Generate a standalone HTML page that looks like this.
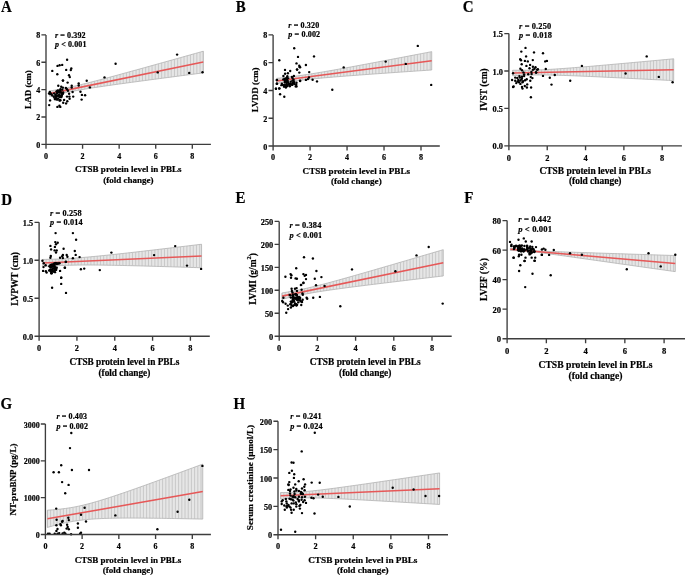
<!DOCTYPE html>
<html><head><meta charset="utf-8"><style>
html,body{margin:0;padding:0;background:#fff;overflow:hidden;width:685px;height:576px;}
svg{display:block;filter:blur(0.35px);}
text{font-family:"Liberation Serif", serif;font-weight:bold;fill:#000;stroke:#000;stroke-width:0.2px;}
.t{font-size:8.3px;}
.yt{font-size:9px;}
.xt{font-size:9px;}
.rp{font-size:8.3px;}
.L{font-size:17.4px;fill:#000;}
</style></head><body>
<svg width="685" height="576" viewBox="0 0 685 576">
<rect width="685" height="576" fill="#fff"/>
<g><polygon points="49.66,90.99 52.22,90.55 54.78,90.1 57.34,89.63 59.9,89.15 62.46,88.66 65.02,88.15 67.58,87.62 70.14,87.08 72.7,86.52 75.26,85.94 77.82,85.35 80.38,84.74 82.94,84.13 85.5,83.5 88.06,82.86 90.62,82.22 93.18,81.56 95.74,80.9 98.3,80.23 100.86,79.56 103.42,78.88 105.98,78.2 108.54,77.51 111.1,76.83 113.66,76.13 116.22,75.44 118.78,74.74 121.34,74.04 123.9,73.34 126.47,72.64 129.03,71.94 131.59,71.23 134.15,70.53 136.71,69.82 139.27,69.11 141.83,68.4 144.39,67.69 146.95,66.98 149.51,66.27 152.07,65.56 154.63,64.85 157.19,64.13 159.75,63.42 162.31,62.7 164.87,61.99 167.43,61.27 169.99,60.56 172.55,59.84 175.11,59.13 177.67,58.41 180.23,57.69 182.79,56.97 185.35,56.26 187.91,55.54 190.47,54.82 193.03,54.1 195.59,53.38 198.15,52.67 200.71,51.95 203.27,51.23 203.27,72.86 200.71,73.2 198.15,73.53 195.59,73.86 193.03,74.2 190.47,74.53 187.91,74.87 185.35,75.2 182.79,75.54 180.23,75.87 177.67,76.21 175.11,76.55 172.55,76.88 169.99,77.22 167.43,77.56 164.87,77.9 162.31,78.23 159.75,78.57 157.19,78.91 154.63,79.25 152.07,79.59 149.51,79.93 146.95,80.27 144.39,80.62 141.83,80.96 139.27,81.3 136.71,81.65 134.15,81.99 131.59,82.34 129.03,82.69 126.47,83.04 123.9,83.39 121.34,83.74 118.78,84.09 116.22,84.45 113.66,84.81 111.1,85.17 108.54,85.54 105.98,85.9 103.42,86.27 100.86,86.65 98.3,87.03 95.74,87.41 93.18,87.81 90.62,88.2 88.06,88.61 85.5,89.03 82.94,89.45 80.38,89.89 77.82,90.34 75.26,90.8 72.7,91.28 70.14,91.77 67.58,92.28 65.02,92.8 62.46,93.34 59.9,93.9 57.34,94.48 54.78,95.06 52.22,95.67 49.66,96.28" fill="#e6e6e6" stroke="#a8a8a8" stroke-width="0.7"/>
<path d="M49.66 90.99V96.28M52.86 90.44V95.52M56.06 89.87V94.77M59.26 89.28V94.04M62.46 88.66V93.34M65.66 88.02V92.67M68.86 87.35V92.02M72.06 86.66V91.4M75.26 85.94V90.8M78.46 85.2V90.22M81.66 84.44V89.67M84.86 83.66V89.13M88.06 82.86V88.61M91.26 82.05V88.11M94.46 81.23V87.61M97.66 80.4V87.13M100.86 79.56V86.65M104.06 78.71V86.18M107.26 77.86V85.72M110.46 77V85.26M113.66 76.14V84.81M116.86 75.27V84.36M120.06 74.4V83.92M123.26 73.52V83.48M126.46 72.64V83.04M129.66 71.76V82.6M132.86 70.88V82.17M136.06 70V81.73M139.26 69.11V81.3M142.46 68.23V80.87M145.66 67.34V80.45M148.86 66.45V80.02M152.06 65.56V79.59M155.26 64.67V79.17M158.46 63.78V78.74M161.66 62.89V78.32M164.86 61.99V77.9M168.06 61.1V77.48M171.26 60.2V77.05M174.46 59.31V76.63M177.66 58.41V76.21M180.86 57.52V75.79M184.06 56.62V75.37M187.26 55.72V74.95M190.46 54.83V74.54M193.66 53.93V74.12M196.86 53.03V73.7M200.06 52.13V73.28M203.26 51.23V72.86" stroke="#bdbdbd" stroke-width="0.75" fill="none"/>
<line x1="49.66" y1="93.63" x2="203.27" y2="62.04" stroke="#e65858" stroke-width="1.55"/>
<circle cx="67.1" cy="59.7" r="1.2"/>
<circle cx="57.5" cy="65.9" r="1.2"/>
<circle cx="59.6" cy="65.2" r="1.2"/>
<circle cx="62.2" cy="64.9" r="1.2"/>
<circle cx="52.3" cy="70.9" r="1.2"/>
<circle cx="66.2" cy="69.9" r="1.2"/>
<circle cx="71.3" cy="68.5" r="1.2"/>
<circle cx="70.8" cy="70.1" r="1.2"/>
<circle cx="57.3" cy="74.3" r="1.2"/>
<circle cx="69" cy="75.3" r="1.2"/>
<circle cx="69.8" cy="77.1" r="1.2"/>
<circle cx="63" cy="80.5" r="1.2"/>
<circle cx="67.6" cy="82.6" r="1.2"/>
<circle cx="86.7" cy="80.7" r="1.2"/>
<circle cx="89.9" cy="87.4" r="1.2"/>
<circle cx="115.6" cy="63.7" r="1.2"/>
<circle cx="104.5" cy="77.4" r="1.2"/>
<circle cx="157.7" cy="72.4" r="1.2"/>
<circle cx="177.1" cy="54.6" r="1.2"/>
<circle cx="189.2" cy="72.9" r="1.2"/>
<circle cx="202.5" cy="72.3" r="1.2"/>
<circle cx="62.9" cy="80.6" r="1.2"/>
<circle cx="58.3" cy="85.8" r="1.2"/>
<circle cx="61.2" cy="86.7" r="1.2"/>
<circle cx="62.9" cy="87.6" r="1.2"/>
<circle cx="65.9" cy="87.9" r="1.2"/>
<circle cx="67" cy="89.3" r="1.2"/>
<circle cx="67.9" cy="90.8" r="1.2"/>
<circle cx="71.7" cy="85.8" r="1.2"/>
<circle cx="71.7" cy="87.6" r="1.2"/>
<circle cx="78.7" cy="83.5" r="1.2"/>
<circle cx="78.7" cy="85.5" r="1.2"/>
<circle cx="49.8" cy="92" r="1.2"/>
<circle cx="50.1" cy="93.7" r="1.2"/>
<circle cx="56.5" cy="91.4" r="1.2"/>
<circle cx="58.3" cy="90.8" r="1.2"/>
<circle cx="72.6" cy="92" r="1.2"/>
<circle cx="80.5" cy="91.7" r="1.2"/>
<circle cx="69.1" cy="93.7" r="1.2"/>
<circle cx="69.4" cy="96.6" r="1.2"/>
<circle cx="69.6" cy="98.7" r="1.2"/>
<circle cx="67" cy="96.6" r="1.2"/>
<circle cx="73.2" cy="96.6" r="1.2"/>
<circle cx="81.9" cy="94.9" r="1.2"/>
<circle cx="85.1" cy="95.2" r="1.2"/>
<circle cx="81.6" cy="99.6" r="1.2"/>
<circle cx="50.1" cy="100.4" r="1.2"/>
<circle cx="49.2" cy="105.1" r="1.2"/>
<circle cx="64.1" cy="99.9" r="1.2"/>
<circle cx="63.2" cy="102.8" r="1.2"/>
<circle cx="66.1" cy="103.4" r="1.2"/>
<circle cx="67.3" cy="101.3" r="1.2"/>
<circle cx="57.4" cy="106.9" r="1.2"/>
<circle cx="59.4" cy="105.7" r="1.2"/>
<circle cx="60.3" cy="106.9" r="1.2"/>
<circle cx="55.34" cy="94.94" r="1.2"/>
<circle cx="62.37" cy="93.54" r="1.2"/>
<circle cx="56.17" cy="95.35" r="1.2"/>
<circle cx="51.35" cy="94.23" r="1.2"/>
<circle cx="57.99" cy="98.42" r="1.2"/>
<circle cx="58.34" cy="95.77" r="1.2"/>
<circle cx="49.05" cy="93.51" r="1.2"/>
<circle cx="55.16" cy="99.15" r="1.2"/>
<circle cx="56.33" cy="96.14" r="1.2"/>
<circle cx="56.05" cy="96.47" r="1.2"/>
<circle cx="61.12" cy="97.15" r="1.2"/>
<circle cx="60.02" cy="92.57" r="1.2"/>
<circle cx="61.21" cy="92.36" r="1.2"/>
<circle cx="62.16" cy="93.6" r="1.2"/>
<circle cx="63.21" cy="92.52" r="1.2"/>
<circle cx="60.2" cy="90.62" r="1.2"/>
<circle cx="60.48" cy="89.25" r="1.2"/>
<circle cx="56.93" cy="93.27" r="1.2"/>
<circle cx="50.34" cy="92.87" r="1.2"/>
<circle cx="61.33" cy="96.16" r="1.2"/>
<circle cx="60.11" cy="91.5" r="1.2"/>
<circle cx="52.22" cy="95.56" r="1.2"/>
<circle cx="54.14" cy="93.35" r="1.2"/>
<circle cx="62.89" cy="93.81" r="1.2"/>
<circle cx="57.16" cy="99.51" r="1.2"/>
<circle cx="59.62" cy="100.61" r="1.2"/>
<circle cx="61.74" cy="95.59" r="1.2"/>
<circle cx="57.49" cy="90.97" r="1.2"/>
<circle cx="56.93" cy="99.3" r="1.2"/>
<circle cx="57.75" cy="90.78" r="1.2"/>
<circle cx="62.27" cy="89.64" r="1.2"/>
<circle cx="58.9" cy="95.31" r="1.2"/>
<circle cx="55.79" cy="97.48" r="1.2"/>
<circle cx="59.58" cy="100.01" r="1.2"/>
<circle cx="59.58" cy="97.08" r="1.2"/>
<circle cx="60.42" cy="100.23" r="1.2"/>
<circle cx="53.84" cy="96.81" r="1.2"/>
<circle cx="54.82" cy="98.38" r="1.2"/>
<circle cx="61.47" cy="95.13" r="1.2"/>
<circle cx="57.91" cy="92.3" r="1.2"/>
<circle cx="57.28" cy="95.67" r="1.2"/>
<circle cx="59.45" cy="92.39" r="1.2"/>
<circle cx="59.55" cy="95.26" r="1.2"/>
<circle cx="55.16" cy="99.09" r="1.2"/>
<path d="M46 34.9V148.8M41.4 144.3H210.9M41.4 144.3H46M41.4 116.95H46M41.4 89.6H46M41.4 62.25H46M41.4 34.9H46M82.58 144.3V148.8M119.15 144.3V148.8M155.73 144.3V148.8M192.3 144.3V148.8" stroke="#3d3d3d" stroke-width="1.35" fill="none"/>
<text x="40.3" y="147.8" text-anchor="end" font-size="8">0</text>
<text x="40.3" y="120.45" text-anchor="end" font-size="8">2</text>
<text x="40.3" y="93.1" text-anchor="end" font-size="8">4</text>
<text x="40.3" y="65.75" text-anchor="end" font-size="8">6</text>
<text x="40.3" y="38.4" text-anchor="end" font-size="8">8</text>
<text x="46" y="158.5" text-anchor="middle" font-size="8">0</text>
<text x="82.58" y="158.5" text-anchor="middle" font-size="8">2</text>
<text x="119.15" y="158.5" text-anchor="middle" font-size="8">4</text>
<text x="155.73" y="158.5" text-anchor="middle" font-size="8">6</text>
<text x="192.3" y="158.5" text-anchor="middle" font-size="8">8</text>
<text transform="translate(30.6 89.5) rotate(-90)" text-anchor="middle" font-size="9">LAD (cm)</text>
<text x="128.3" y="172.2" text-anchor="middle" font-size="9">CTSB protein level in PBLs</text>
<text x="128.3" y="182.7" text-anchor="middle" font-size="9">(fold change)</text>
<text x="54.9" y="38.3" font-size="8" letter-spacing="0.12"><tspan font-style="italic">r</tspan> = 0.392</text>
<text x="54.9" y="47" font-size="8" letter-spacing="0.12"><tspan font-style="italic">p</tspan> < 0.001</text>
<text transform="translate(1 11.5) scale(0.86 1)" class="L">A</text></g>
<g><polygon points="276.61,78.37 279.2,78.1 281.78,77.82 284.37,77.53 286.95,77.23 289.54,76.91 292.12,76.59 294.71,76.25 297.29,75.91 299.88,75.55 302.46,75.18 305.05,74.8 307.63,74.41 310.22,74.01 312.8,73.6 315.39,73.18 317.98,72.76 320.56,72.32 323.15,71.89 325.73,71.45 328.32,71 330.9,70.55 333.49,70.09 336.07,69.63 338.66,69.17 341.24,68.7 343.83,68.23 346.41,67.76 349,67.29 351.58,66.82 354.17,66.34 356.75,65.86 359.34,65.38 361.92,64.9 364.51,64.42 367.09,63.94 369.68,63.45 372.26,62.97 374.85,62.48 377.43,61.99 380.02,61.51 382.6,61.02 385.19,60.53 387.77,60.04 390.36,59.55 392.95,59.06 395.53,58.57 398.12,58.07 400.7,57.58 403.29,57.09 405.87,56.6 408.46,56.1 411.04,55.61 413.63,55.11 416.21,54.62 418.8,54.13 421.38,53.63 423.97,53.14 426.55,52.64 429.14,52.15 431.72,51.65 431.72,69.97 429.14,70.15 426.55,70.32 423.97,70.5 421.38,70.68 418.8,70.85 416.21,71.03 413.63,71.21 411.04,71.39 408.46,71.56 405.87,71.74 403.29,71.92 400.7,72.1 398.12,72.28 395.53,72.46 392.95,72.64 390.36,72.82 387.77,73 385.19,73.19 382.6,73.37 380.02,73.55 377.43,73.74 374.85,73.92 372.26,74.11 369.68,74.29 367.09,74.48 364.51,74.67 361.92,74.86 359.34,75.05 356.75,75.24 354.17,75.44 351.58,75.63 349,75.83 346.41,76.03 343.83,76.23 341.24,76.43 338.66,76.64 336.07,76.85 333.49,77.06 330.9,77.28 328.32,77.5 325.73,77.72 323.15,77.95 320.56,78.19 317.98,78.43 315.39,78.67 312.8,78.93 310.22,79.19 307.63,79.46 305.05,79.75 302.46,80.04 299.88,80.34 297.29,80.65 294.71,80.98 292.12,81.31 289.54,81.66 286.95,82.02 284.37,82.39 281.78,82.77 279.2,83.16 276.61,83.56" fill="#e6e6e6" stroke="#a8a8a8" stroke-width="0.7"/>
<path d="M276.61 78.37V83.56M279.81 78.03V83.07M283.01 77.68V82.59M286.21 77.31V82.12M289.41 76.93V81.68M292.61 76.53V81.25M295.81 76.11V80.84M299.01 75.67V80.44M302.21 75.21V80.07M305.41 74.74V79.71M308.61 74.26V79.36M311.81 73.75V79.03M315.01 73.24V78.71M318.21 72.72V78.4M321.41 72.18V78.11M324.61 71.64V77.82M327.81 71.09V77.54M331.01 70.53V77.27M334.21 69.96V77M337.41 69.39V76.74M340.61 68.82V76.48M343.81 68.24V76.23M347.01 67.65V75.98M350.21 67.07V75.74M353.41 66.48V75.49M356.61 65.89V75.25M359.81 65.29V75.01M363.01 64.7V74.78M366.21 64.1V74.54M369.41 63.5V74.31M372.61 62.9V74.08M375.81 62.3V73.85M379.01 61.7V73.62M382.21 61.09V73.4M385.41 60.49V73.17M388.61 59.88V72.94M391.81 59.27V72.72M395.01 58.66V72.5M398.21 58.05V72.27M401.41 57.45V72.05M404.61 56.84V71.83M407.81 56.23V71.61M411.01 55.61V71.39M414.21 55V71.17M417.41 54.39V70.95M420.61 53.78V70.73M423.81 53.17V70.51M427.01 52.55V70.29M430.21 51.94V70.07" stroke="#bdbdbd" stroke-width="0.75" fill="none"/>
<line x1="276.61" y1="80.97" x2="431.72" y2="60.81" stroke="#e65858" stroke-width="1.55"/>
<circle cx="294.2" cy="48.3" r="1.2"/>
<circle cx="298" cy="56.9" r="1.2"/>
<circle cx="314" cy="56.4" r="1.2"/>
<circle cx="279.3" cy="60.3" r="1.2"/>
<circle cx="296.5" cy="63.4" r="1.2"/>
<circle cx="299.3" cy="65.8" r="1.2"/>
<circle cx="300.1" cy="67.3" r="1.2"/>
<circle cx="305.9" cy="65" r="1.2"/>
<circle cx="285" cy="69.9" r="1.2"/>
<circle cx="290.2" cy="71" r="1.2"/>
<circle cx="297" cy="69.5" r="1.2"/>
<circle cx="299.3" cy="72.6" r="1.2"/>
<circle cx="309.2" cy="72.1" r="1.2"/>
<circle cx="276.7" cy="80.1" r="1.2"/>
<circle cx="276.7" cy="83.75" r="1.2"/>
<circle cx="276" cy="88.75" r="1.2"/>
<circle cx="279.3" cy="88.4" r="1.2"/>
<circle cx="280.1" cy="94.2" r="1.2"/>
<circle cx="284.3" cy="96.8" r="1.2"/>
<circle cx="312.6" cy="79.8" r="1.2"/>
<circle cx="317" cy="81.4" r="1.2"/>
<circle cx="305.9" cy="79.9" r="1.2"/>
<circle cx="307.9" cy="79.1" r="1.2"/>
<circle cx="309" cy="77.5" r="1.2"/>
<circle cx="300.1" cy="80.8" r="1.2"/>
<circle cx="296.5" cy="82.7" r="1.2"/>
<circle cx="296.5" cy="86.4" r="1.2"/>
<circle cx="293.9" cy="75.9" r="1.2"/>
<circle cx="417.8" cy="45.9" r="1.2"/>
<circle cx="343.7" cy="67.4" r="1.2"/>
<circle cx="385.7" cy="61.6" r="1.2"/>
<circle cx="405.8" cy="63.9" r="1.2"/>
<circle cx="332.3" cy="89.8" r="1.2"/>
<circle cx="431.2" cy="84.9" r="1.2"/>
<circle cx="283.4" cy="76" r="1.2"/>
<circle cx="285.1" cy="73.8" r="1.2"/>
<circle cx="287.9" cy="73.2" r="1.2"/>
<circle cx="299.6" cy="67.1" r="1.2"/>
<circle cx="297.1" cy="69.6" r="1.2"/>
<circle cx="300.1" cy="81" r="1.2"/>
<circle cx="277.1" cy="79.9" r="1.2"/>
<circle cx="277.1" cy="83.8" r="1.2"/>
<circle cx="275.9" cy="88.8" r="1.2"/>
<circle cx="279.3" cy="88.5" r="1.2"/>
<circle cx="288.84" cy="84.37" r="1.2"/>
<circle cx="291.93" cy="76.95" r="1.2"/>
<circle cx="285.61" cy="86.57" r="1.2"/>
<circle cx="292.32" cy="83.56" r="1.2"/>
<circle cx="290.19" cy="84.42" r="1.2"/>
<circle cx="282.4" cy="84.79" r="1.2"/>
<circle cx="286.63" cy="80.73" r="1.2"/>
<circle cx="283.37" cy="79.4" r="1.2"/>
<circle cx="283.96" cy="86.65" r="1.2"/>
<circle cx="287.65" cy="80.93" r="1.2"/>
<circle cx="290.8" cy="81.77" r="1.2"/>
<circle cx="286.94" cy="80.13" r="1.2"/>
<circle cx="292.31" cy="84.6" r="1.2"/>
<circle cx="287.05" cy="82.26" r="1.2"/>
<circle cx="294.24" cy="82.1" r="1.2"/>
<circle cx="288.13" cy="82.37" r="1.2"/>
<circle cx="284.78" cy="81.05" r="1.2"/>
<circle cx="287.45" cy="86.02" r="1.2"/>
<circle cx="284.07" cy="84.92" r="1.2"/>
<circle cx="286.74" cy="84.07" r="1.2"/>
<circle cx="284.56" cy="78.96" r="1.2"/>
<circle cx="287.06" cy="77.62" r="1.2"/>
<circle cx="293.61" cy="79.82" r="1.2"/>
<circle cx="281.84" cy="83.81" r="1.2"/>
<circle cx="286.39" cy="86.24" r="1.2"/>
<circle cx="294.59" cy="84.11" r="1.2"/>
<circle cx="284.9" cy="82.49" r="1.2"/>
<circle cx="288.89" cy="83.93" r="1.2"/>
<circle cx="285.89" cy="87.47" r="1.2"/>
<circle cx="289.49" cy="84.92" r="1.2"/>
<circle cx="292.55" cy="77.98" r="1.2"/>
<circle cx="285.79" cy="78.57" r="1.2"/>
<circle cx="292.2" cy="84.9" r="1.2"/>
<circle cx="287.97" cy="78.37" r="1.2"/>
<circle cx="290.21" cy="83.9" r="1.2"/>
<circle cx="293.44" cy="80.91" r="1.2"/>
<circle cx="293.91" cy="83.25" r="1.2"/>
<circle cx="286.79" cy="80.21" r="1.2"/>
<circle cx="293.05" cy="83.01" r="1.2"/>
<circle cx="281.48" cy="85.13" r="1.2"/>
<circle cx="295.75" cy="86.39" r="1.2"/>
<circle cx="289.81" cy="86.26" r="1.2"/>
<circle cx="287.31" cy="76.32" r="1.2"/>
<circle cx="286.89" cy="79.39" r="1.2"/>
<circle cx="296.24" cy="84.82" r="1.2"/>
<circle cx="289.92" cy="83.86" r="1.2"/>
<circle cx="292.48" cy="80.58" r="1.2"/>
<circle cx="285.16" cy="80.76" r="1.2"/>
<circle cx="286.41" cy="84.77" r="1.2"/>
<circle cx="286.23" cy="84.92" r="1.2"/>
<path d="M273.1 34.9V150.5M268.5 146H439.8M268.5 146H273.1M268.5 118.22H273.1M268.5 90.45H273.1M268.5 62.68H273.1M268.5 34.9H273.1M310.08 146V150.5M347.05 146V150.5M384.02 146V150.5M421 146V150.5" stroke="#3d3d3d" stroke-width="1.35" fill="none"/>
<text x="267.34" y="149.54" text-anchor="end" font-size="8.09">0</text>
<text x="267.34" y="121.76" text-anchor="end" font-size="8.09">2</text>
<text x="267.34" y="93.99" text-anchor="end" font-size="8.09">4</text>
<text x="267.34" y="66.21" text-anchor="end" font-size="8.09">6</text>
<text x="267.34" y="38.44" text-anchor="end" font-size="8.09">8</text>
<text x="273.1" y="160.35" text-anchor="middle" font-size="8.09">0</text>
<text x="310.08" y="160.35" text-anchor="middle" font-size="8.09">2</text>
<text x="347.05" y="160.35" text-anchor="middle" font-size="8.09">4</text>
<text x="384.02" y="160.35" text-anchor="middle" font-size="8.09">6</text>
<text x="421" y="160.35" text-anchor="middle" font-size="8.09">8</text>
<text transform="translate(257.7 89.8) rotate(-90)" text-anchor="middle" font-size="9.1">LVDD (cm)</text>
<text x="356.3" y="173.7" text-anchor="middle" font-size="9.1">CTSB protein level in PBLs</text>
<text x="356.3" y="184.2" text-anchor="middle" font-size="9.1">(fold change)</text>
<text x="288.3" y="27.7" font-size="8.09" letter-spacing="0.12"><tspan font-style="italic">r</tspan> = 0.320</text>
<text x="288.3" y="37" font-size="8.09" letter-spacing="0.12"><tspan font-style="italic">p</tspan> = 0.002</text>
<text transform="translate(235.8 11.6) scale(0.86 1)" class="L">B</text></g>
<g><polygon points="512.73,70.23 515.42,70.26 518.1,70.28 520.78,70.29 523.46,70.28 526.15,70.25 528.83,70.21 531.51,70.16 534.19,70.09 536.88,70 539.56,69.9 542.24,69.78 544.93,69.65 547.61,69.51 550.29,69.36 552.97,69.19 555.66,69.02 558.34,68.84 561.02,68.65 563.7,68.46 566.39,68.26 569.07,68.06 571.75,67.85 574.44,67.64 577.12,67.42 579.8,67.2 582.48,66.98 585.17,66.76 587.85,66.53 590.53,66.31 593.22,66.08 595.9,65.84 598.58,65.61 601.26,65.38 603.95,65.14 606.63,64.91 609.31,64.67 611.99,64.43 614.68,64.19 617.36,63.95 620.04,63.71 622.73,63.47 625.41,63.23 628.09,62.99 630.77,62.75 633.46,62.5 636.14,62.26 638.82,62.01 641.5,61.77 644.19,61.53 646.87,61.28 649.55,61.03 652.24,60.79 654.92,60.54 657.6,60.3 660.28,60.05 662.97,59.8 665.65,59.56 668.33,59.31 671.01,59.06 673.7,58.81 673.7,80.65 671.01,80.51 668.33,80.37 665.65,80.23 662.97,80.09 660.28,79.95 657.6,79.82 654.92,79.68 652.24,79.54 649.55,79.4 646.87,79.27 644.19,79.13 641.5,78.99 638.82,78.86 636.14,78.72 633.46,78.58 630.77,78.45 628.09,78.31 625.41,78.18 622.73,78.05 620.04,77.91 617.36,77.78 614.68,77.65 611.99,77.52 609.31,77.39 606.63,77.26 603.95,77.13 601.26,77.01 598.58,76.88 595.9,76.76 593.22,76.63 590.53,76.51 587.85,76.39 585.17,76.28 582.48,76.16 579.8,76.05 577.12,75.94 574.44,75.83 571.75,75.73 569.07,75.63 566.39,75.53 563.7,75.44 561.02,75.36 558.34,75.28 555.66,75.21 552.97,75.14 550.29,75.09 547.61,75.04 544.93,75.01 542.24,74.99 539.56,74.98 536.88,74.98 534.19,75 531.51,75.04 528.83,75.09 526.15,75.16 523.46,75.25 520.78,75.35 518.1,75.46 515.42,75.59 512.73,75.73" fill="#e6e6e6" stroke="#a8a8a8" stroke-width="0.7"/>
<path d="M512.73 70.23V75.73M515.93 70.26V75.57M519.13 70.28V75.42M522.33 70.28V75.29M525.53 70.26V75.18M528.73 70.22V75.1M531.93 70.15V75.03M535.13 70.06V75M538.33 69.95V74.98M541.53 69.81V74.98M544.73 69.66V75.01M547.93 69.49V75.05M551.13 69.31V75.1M554.33 69.11V75.17M557.53 68.9V75.26M560.73 68.67V75.35M563.93 68.44V75.45M567.13 68.21V75.56M570.33 67.96V75.67M573.53 67.71V75.8M576.73 67.45V75.92M579.93 67.19V76.05M583.13 66.93V76.19M586.33 66.66V76.33M589.53 66.39V76.47M592.73 66.12V76.61M595.93 65.84V76.76M599.13 65.56V76.91M602.33 65.28V77.06M605.53 65V77.21M608.73 64.72V77.36M611.93 64.44V77.52M615.13 64.15V77.67M618.33 63.87V77.83M621.53 63.58V77.99M624.73 63.29V78.15M627.93 63V78.31M631.13 62.71V78.47M634.33 62.42V78.63M637.53 62.13V78.79M640.73 61.84V78.95M643.93 61.55V79.12M647.13 61.26V79.28M650.33 60.96V79.44M653.53 60.67V79.61M656.73 60.38V79.77M659.93 60.08V79.94M663.13 59.79V80.1M666.33 59.49V80.27M669.53 59.2V80.43M672.73 58.9V80.6" stroke="#bdbdbd" stroke-width="0.75" fill="none"/>
<line x1="512.73" y1="72.98" x2="673.7" y2="69.73" stroke="#e65858" stroke-width="1.55"/>
<circle cx="525.5" cy="47.9" r="1.2"/>
<circle cx="521.3" cy="51.6" r="1.2"/>
<circle cx="534" cy="52.4" r="1.2"/>
<circle cx="543" cy="53.2" r="1.2"/>
<circle cx="526.1" cy="56.4" r="1.2"/>
<circle cx="520.2" cy="59.2" r="1.2"/>
<circle cx="521" cy="60.3" r="1.2"/>
<circle cx="524.9" cy="60.9" r="1.2"/>
<circle cx="527.8" cy="61.4" r="1.2"/>
<circle cx="532.8" cy="60.1" r="1.2"/>
<circle cx="545.2" cy="61.4" r="1.2"/>
<circle cx="546.9" cy="60.9" r="1.2"/>
<circle cx="537.9" cy="69.3" r="1.2"/>
<circle cx="536.2" cy="72.7" r="1.2"/>
<circle cx="545.8" cy="69" r="1.2"/>
<circle cx="543" cy="75.9" r="1.2"/>
<circle cx="554.8" cy="75" r="1.2"/>
<circle cx="549.8" cy="77.8" r="1.2"/>
<circle cx="551.5" cy="84.6" r="1.2"/>
<circle cx="530.9" cy="97.3" r="1.2"/>
<circle cx="581.9" cy="65.9" r="1.2"/>
<circle cx="570.2" cy="80.7" r="1.2"/>
<circle cx="625.6" cy="73.5" r="1.2"/>
<circle cx="646.7" cy="56.4" r="1.2"/>
<circle cx="658.8" cy="76.9" r="1.2"/>
<circle cx="672.6" cy="82.2" r="1.2"/>
<circle cx="521.7" cy="64.3" r="1.2"/>
<circle cx="526.4" cy="65.9" r="1.2"/>
<circle cx="530.1" cy="64.9" r="1.2"/>
<circle cx="529.5" cy="68.25" r="1.2"/>
<circle cx="532.9" cy="66.7" r="1.2"/>
<circle cx="535.5" cy="67.2" r="1.2"/>
<circle cx="534.5" cy="68.8" r="1.2"/>
<circle cx="532.9" cy="69.8" r="1.2"/>
<circle cx="537.1" cy="69.8" r="1.2"/>
<circle cx="536" cy="72.2" r="1.2"/>
<circle cx="520.4" cy="68.8" r="1.2"/>
<circle cx="522" cy="70.3" r="1.2"/>
<circle cx="523.5" cy="72.4" r="1.2"/>
<circle cx="524.1" cy="74.5" r="1.2"/>
<circle cx="513.1" cy="73.2" r="1.2"/>
<circle cx="528.2" cy="74.2" r="1.2"/>
<circle cx="531.4" cy="71.9" r="1.2"/>
<circle cx="531.6" cy="74" r="1.2"/>
<circle cx="519.4" cy="76.1" r="1.2"/>
<circle cx="522" cy="76.6" r="1.2"/>
<circle cx="524.1" cy="76.1" r="1.2"/>
<circle cx="515.2" cy="77.6" r="1.2"/>
<circle cx="517.3" cy="77.9" r="1.2"/>
<circle cx="519.9" cy="77.6" r="1.2"/>
<circle cx="522" cy="78.1" r="1.2"/>
<circle cx="530.8" cy="77.1" r="1.2"/>
<circle cx="532.4" cy="78.1" r="1.2"/>
<circle cx="512.1" cy="80" r="1.2"/>
<circle cx="515.2" cy="80.75" r="1.2"/>
<circle cx="518.3" cy="80" r="1.2"/>
<circle cx="520.4" cy="80.5" r="1.2"/>
<circle cx="523" cy="81.3" r="1.2"/>
<circle cx="525.1" cy="80.2" r="1.2"/>
<circle cx="526.7" cy="79.2" r="1.2"/>
<circle cx="530.3" cy="80.75" r="1.2"/>
<circle cx="516.25" cy="83.1" r="1.2"/>
<circle cx="520.4" cy="83.9" r="1.2"/>
<circle cx="522.5" cy="82.3" r="1.2"/>
<circle cx="513.1" cy="87" r="1.2"/>
<circle cx="513.6" cy="86.5" r="1.2"/>
<circle cx="522" cy="87" r="1.2"/>
<circle cx="522.5" cy="88.6" r="1.2"/>
<circle cx="524.8" cy="86" r="1.2"/>
<circle cx="527.2" cy="84.4" r="1.2"/>
<circle cx="526.9" cy="87.5" r="1.2"/>
<circle cx="531.1" cy="87.5" r="1.2"/>
<circle cx="517.5" cy="81.6" r="1.2"/>
<circle cx="521.5" cy="79.4" r="1.2"/>
<circle cx="519" cy="82.2" r="1.2"/>
<path d="M508.9 33.6V150.3M504.3 145.8H681.9M504.3 145.8H508.9M504.3 108.4H508.9M504.3 71H508.9M504.3 33.6H508.9M547.23 145.8V150.3M585.55 145.8V150.3M623.88 145.8V150.3M662.2 145.8V150.3" stroke="#3d3d3d" stroke-width="1.35" fill="none"/>
<text x="502.93" y="149.47" text-anchor="end" font-size="8.38">0.0</text>
<text x="502.93" y="112.07" text-anchor="end" font-size="8.38">0.5</text>
<text x="502.93" y="74.67" text-anchor="end" font-size="8.38">1.0</text>
<text x="502.93" y="37.27" text-anchor="end" font-size="8.38">1.5</text>
<text x="508.9" y="160.68" text-anchor="middle" font-size="8.38">0</text>
<text x="547.23" y="160.68" text-anchor="middle" font-size="8.38">2</text>
<text x="585.55" y="160.68" text-anchor="middle" font-size="8.38">4</text>
<text x="623.88" y="160.68" text-anchor="middle" font-size="8.38">6</text>
<text x="662.2" y="160.68" text-anchor="middle" font-size="8.38">8</text>
<text transform="translate(486.5 89.6) rotate(-90)" text-anchor="middle" font-size="9.43">IVST (cm)</text>
<text x="595.2" y="173.8" text-anchor="middle" font-size="9.43">CTSB protein level in PBLs</text>
<text x="595.2" y="184.4" text-anchor="middle" font-size="9.43">(fold change)</text>
<text x="519.1" y="28.6" font-size="8.38" letter-spacing="0.12"><tspan font-style="italic">r</tspan> = 0.250</text>
<text x="519.1" y="38.4" font-size="8.38" letter-spacing="0.12"><tspan font-style="italic">p</tspan> = 0.018</text>
<text transform="translate(462.8 11.8) scale(0.86 1)" class="L">C</text></g>
<g><polygon points="42.88,259.44 45.53,259.4 48.17,259.34 50.82,259.28 53.46,259.2 56.11,259.11 58.75,259 61.39,258.89 64.04,258.75 66.68,258.61 69.33,258.45 71.97,258.28 74.62,258.1 77.26,257.91 79.91,257.71 82.55,257.49 85.2,257.27 87.84,257.04 90.49,256.8 93.13,256.56 95.77,256.31 98.42,256.05 101.06,255.79 103.71,255.52 106.35,255.25 109,254.97 111.64,254.69 114.29,254.41 116.93,254.12 119.58,253.83 122.22,253.54 124.87,253.25 127.51,252.95 130.15,252.66 132.8,252.36 135.44,252.06 138.09,251.75 140.73,251.45 143.38,251.15 146.02,250.84 148.67,250.53 151.31,250.22 153.96,249.92 156.6,249.61 159.24,249.29 161.89,248.98 164.53,248.67 167.18,248.36 169.82,248.04 172.47,247.73 175.11,247.42 177.76,247.1 180.4,246.78 183.05,246.47 185.69,246.15 188.34,245.83 190.98,245.52 193.62,245.2 196.27,244.88 198.91,244.56 201.56,244.24 201.56,267.77 198.91,267.69 196.27,267.6 193.62,267.52 190.98,267.43 188.34,267.35 185.69,267.27 183.05,267.18 180.4,267.1 177.76,267.02 175.11,266.94 172.47,266.85 169.82,266.77 167.18,266.69 164.53,266.61 161.89,266.54 159.24,266.46 156.6,266.38 153.96,266.3 151.31,266.23 148.67,266.15 146.02,266.08 143.38,266.01 140.73,265.94 138.09,265.87 135.44,265.8 132.8,265.73 130.15,265.67 127.51,265.6 124.87,265.54 122.22,265.48 119.58,265.42 116.93,265.37 114.29,265.32 111.64,265.27 109,265.22 106.35,265.18 103.71,265.14 101.06,265.11 98.42,265.08 95.77,265.05 93.13,265.04 90.49,265.02 87.84,265.02 85.2,265.02 82.55,265.03 79.91,265.05 77.26,265.09 74.62,265.13 71.97,265.18 69.33,265.24 66.68,265.32 64.04,265.41 61.39,265.51 58.75,265.63 56.11,265.76 53.46,265.9 50.82,266.05 48.17,266.22 45.53,266.4 42.88,266.59" fill="#e6e6e6" stroke="#a8a8a8" stroke-width="0.7"/>
<path d="M42.88 259.44V266.59M46.08 259.38V266.36M49.28 259.32V266.15M52.48 259.23V265.95M55.68 259.12V265.78M58.88 259V265.62M62.08 258.85V265.48M65.28 258.69V265.36M68.48 258.5V265.27M71.68 258.3V265.18M74.88 258.08V265.12M78.08 257.85V265.07M81.28 257.6V265.04M84.48 257.33V265.02M87.68 257.05V265.02M90.88 256.77V265.03M94.08 256.47V265.04M97.28 256.16V265.07M100.48 255.84V265.1M103.68 255.52V265.14M106.88 255.19V265.19M110.08 254.86V265.24M113.28 254.52V265.3M116.48 254.17V265.36M119.68 253.82V265.43M122.88 253.47V265.5M126.08 253.11V265.57M129.28 252.75V265.64M132.48 252.39V265.72M135.68 252.03V265.8M138.88 251.66V265.89M142.08 251.3V265.97M145.28 250.93V266.06M148.48 250.55V266.15M151.68 250.18V266.24M154.88 249.81V266.33M158.08 249.43V266.42M161.28 249.05V266.52M164.48 248.68V266.61M167.68 248.3V266.71M170.88 247.92V266.81M174.08 247.54V266.9M177.28 247.16V267M180.48 246.77V267.1M183.68 246.39V267.2M186.88 246.01V267.3M190.08 245.62V267.4M193.28 245.24V267.51M196.48 244.85V267.61M199.68 244.47V267.71" stroke="#bdbdbd" stroke-width="0.75" fill="none"/>
<line x1="42.88" y1="263.02" x2="201.56" y2="256.01" stroke="#e65858" stroke-width="1.55"/>
<circle cx="55.6" cy="233.1" r="1.2"/>
<circle cx="72.9" cy="233.1" r="1.2"/>
<circle cx="76.1" cy="239.7" r="1.2"/>
<circle cx="74.8" cy="251" r="1.2"/>
<circle cx="75.7" cy="254.9" r="1.2"/>
<circle cx="79.6" cy="257.1" r="1.2"/>
<circle cx="72.9" cy="258.2" r="1.2"/>
<circle cx="66" cy="261.8" r="1.2"/>
<circle cx="64.7" cy="267.7" r="1.2"/>
<circle cx="80.9" cy="269.2" r="1.2"/>
<circle cx="84.2" cy="268.6" r="1.2"/>
<circle cx="99.8" cy="270.1" r="1.2"/>
<circle cx="61.2" cy="277.7" r="1.2"/>
<circle cx="61.2" cy="283.9" r="1.2"/>
<circle cx="52.1" cy="287.7" r="1.2"/>
<circle cx="66" cy="292.9" r="1.2"/>
<circle cx="111.4" cy="252.6" r="1.2"/>
<circle cx="154.1" cy="255.1" r="1.2"/>
<circle cx="175.2" cy="246.1" r="1.2"/>
<circle cx="187" cy="265.6" r="1.2"/>
<circle cx="201.1" cy="268.9" r="1.2"/>
<circle cx="55.3" cy="242.1" r="1.2"/>
<circle cx="57.7" cy="242.8" r="1.2"/>
<circle cx="56" cy="244.2" r="1.2"/>
<circle cx="54.9" cy="246.9" r="1.2"/>
<circle cx="50.4" cy="245.9" r="1.2"/>
<circle cx="51.1" cy="249.4" r="1.2"/>
<circle cx="54.6" cy="250.4" r="1.2"/>
<circle cx="56.7" cy="250.4" r="1.2"/>
<circle cx="56" cy="252.5" r="1.2"/>
<circle cx="63.6" cy="248.7" r="1.2"/>
<circle cx="50.8" cy="256" r="1.2"/>
<circle cx="50.4" cy="257.7" r="1.2"/>
<circle cx="60.1" cy="257.7" r="1.2"/>
<circle cx="62.2" cy="256.3" r="1.2"/>
<circle cx="62.9" cy="258.1" r="1.2"/>
<circle cx="62.9" cy="254.9" r="1.2"/>
<circle cx="66.7" cy="254.9" r="1.2"/>
<circle cx="67.4" cy="256.7" r="1.2"/>
<circle cx="42.4" cy="260.8" r="1.2"/>
<circle cx="65.7" cy="261.9" r="1.2"/>
<circle cx="43.8" cy="263.3" r="1.2"/>
<circle cx="45.6" cy="265.3" r="1.2"/>
<circle cx="43.5" cy="267.1" r="1.2"/>
<circle cx="65" cy="267.8" r="1.2"/>
<circle cx="43.1" cy="270.9" r="1.2"/>
<circle cx="45.9" cy="271.25" r="1.2"/>
<circle cx="46.6" cy="272.6" r="1.2"/>
<circle cx="60.1" cy="270.9" r="1.2"/>
<circle cx="61.2" cy="277.8" r="1.2"/>
<circle cx="49.16" cy="270.49" r="1.2"/>
<circle cx="51.56" cy="265.22" r="1.2"/>
<circle cx="52.02" cy="270.27" r="1.2"/>
<circle cx="53.39" cy="271.37" r="1.2"/>
<circle cx="51.4" cy="271.69" r="1.2"/>
<circle cx="56.82" cy="263.97" r="1.2"/>
<circle cx="55.65" cy="270.04" r="1.2"/>
<circle cx="50.01" cy="269.89" r="1.2"/>
<circle cx="49.4" cy="266.18" r="1.2"/>
<circle cx="57.63" cy="263.52" r="1.2"/>
<circle cx="56.2" cy="269.68" r="1.2"/>
<circle cx="50.43" cy="267.54" r="1.2"/>
<circle cx="50.79" cy="271.62" r="1.2"/>
<circle cx="54.91" cy="263.41" r="1.2"/>
<circle cx="59.54" cy="263.26" r="1.2"/>
<circle cx="58.41" cy="263.54" r="1.2"/>
<circle cx="55.28" cy="263.3" r="1.2"/>
<circle cx="54.61" cy="270.29" r="1.2"/>
<circle cx="55.41" cy="267.57" r="1.2"/>
<circle cx="54.68" cy="267.36" r="1.2"/>
<circle cx="56.29" cy="263.32" r="1.2"/>
<circle cx="54.53" cy="264.99" r="1.2"/>
<circle cx="52.67" cy="268.92" r="1.2"/>
<circle cx="52.01" cy="264.43" r="1.2"/>
<circle cx="56.77" cy="267.74" r="1.2"/>
<circle cx="51.34" cy="266.78" r="1.2"/>
<circle cx="51.73" cy="273.25" r="1.2"/>
<circle cx="52.83" cy="265.17" r="1.2"/>
<circle cx="50.51" cy="264.91" r="1.2"/>
<circle cx="51.23" cy="269.33" r="1.2"/>
<circle cx="55.79" cy="269.23" r="1.2"/>
<circle cx="55.02" cy="272.13" r="1.2"/>
<circle cx="52.95" cy="266.73" r="1.2"/>
<circle cx="51.21" cy="273.22" r="1.2"/>
<circle cx="54.45" cy="266.21" r="1.2"/>
<circle cx="50.53" cy="270.37" r="1.2"/>
<circle cx="54.13" cy="268.63" r="1.2"/>
<circle cx="53.16" cy="271.46" r="1.2"/>
<circle cx="51.35" cy="266.55" r="1.2"/>
<circle cx="53.81" cy="263.72" r="1.2"/>
<path d="M39.1 222.3V340.7M34.5 336.2H209.8M34.5 336.2H39.1M34.5 298.23H39.1M34.5 260.27H39.1M34.5 222.3H39.1M76.93 336.2V340.7M114.75 336.2V340.7M152.58 336.2V340.7M190.4 336.2V340.7" stroke="#3d3d3d" stroke-width="1.35" fill="none"/>
<text x="33.21" y="339.82" text-anchor="end" font-size="8.27">0.0</text>
<text x="33.21" y="301.85" text-anchor="end" font-size="8.27">0.5</text>
<text x="33.21" y="263.89" text-anchor="end" font-size="8.27">1.0</text>
<text x="33.21" y="225.92" text-anchor="end" font-size="8.27">1.5</text>
<text x="39.1" y="350.88" text-anchor="middle" font-size="8.27">0</text>
<text x="76.93" y="350.88" text-anchor="middle" font-size="8.27">2</text>
<text x="114.75" y="350.88" text-anchor="middle" font-size="8.27">4</text>
<text x="152.58" y="350.88" text-anchor="middle" font-size="8.27">6</text>
<text x="190.4" y="350.88" text-anchor="middle" font-size="8.27">8</text>
<text transform="translate(17.9 279) rotate(-90)" text-anchor="middle" font-size="9.31">LVPWT (cm)</text>
<text x="124.4" y="365.2" text-anchor="middle" font-size="9.31">CTSB protein level in PBLs</text>
<text x="124.4" y="375.6" text-anchor="middle" font-size="9.31">(fold change)</text>
<text x="50" y="215.9" font-size="8.27" letter-spacing="0.12"><tspan font-style="italic">r</tspan> = 0.258</text>
<text x="50" y="225" font-size="8.27" letter-spacing="0.12"><tspan font-style="italic">p</tspan> = 0.014</text>
<text transform="translate(1.2 204.5) scale(0.86 1)" class="L">D</text></g>
<g><polygon points="282.06,292.93 284.75,292.49 287.44,292.04 290.13,291.57 292.81,291.08 295.5,290.57 298.19,290.05 300.87,289.5 303.56,288.92 306.25,288.33 308.93,287.72 311.62,287.09 314.31,286.44 316.99,285.78 319.68,285.1 322.37,284.41 325.05,283.71 327.74,283 330.43,282.28 333.11,281.55 335.8,280.81 338.49,280.07 341.17,279.33 343.86,278.57 346.55,277.82 349.23,277.06 351.92,276.3 354.61,275.54 357.29,274.77 359.98,274 362.67,273.23 365.35,272.46 368.04,271.68 370.73,270.91 373.41,270.13 376.1,269.35 378.79,268.57 381.47,267.79 384.16,267.01 386.85,266.23 389.53,265.45 392.22,264.66 394.91,263.88 397.59,263.09 400.28,262.31 402.97,261.52 405.65,260.74 408.34,259.95 411.03,259.16 413.71,258.38 416.4,257.59 419.09,256.8 421.78,256.01 424.46,255.22 427.15,254.43 429.84,253.64 432.52,252.85 435.21,252.06 437.9,251.27 440.58,250.48 443.27,249.69 443.27,275.96 440.58,276.28 437.9,276.6 435.21,276.92 432.52,277.24 429.84,277.56 427.15,277.88 424.46,278.2 421.78,278.52 419.09,278.84 416.4,279.16 413.71,279.48 411.03,279.8 408.34,280.13 405.65,280.45 402.97,280.77 400.28,281.1 397.59,281.42 394.91,281.75 392.22,282.07 389.53,282.4 386.85,282.72 384.16,283.05 381.47,283.38 378.79,283.71 376.1,284.04 373.41,284.37 370.73,284.7 368.04,285.04 365.35,285.37 362.67,285.71 359.98,286.05 357.29,286.39 354.61,286.73 351.92,287.08 349.23,287.43 346.55,287.78 343.86,288.14 341.17,288.49 338.49,288.86 335.8,289.23 333.11,289.6 330.43,289.98 327.74,290.37 325.05,290.77 322.37,291.18 319.68,291.6 316.99,292.03 314.31,292.47 311.62,292.94 308.93,293.42 306.25,293.91 303.56,294.43 300.87,294.97 298.19,295.53 295.5,296.11 292.81,296.71 290.13,297.34 287.44,297.97 284.75,298.63 282.06,299.3" fill="#e6e6e6" stroke="#a8a8a8" stroke-width="0.7"/>
<path d="M282.06 292.93V299.3M285.26 292.41V298.5M288.46 291.86V297.73M291.66 291.29V296.98M294.86 290.7V296.25M298.06 290.07V295.56M301.26 289.41V294.89M304.46 288.73V294.25M307.66 288.01V293.65M310.86 287.27V293.07M314.06 286.5V292.51M317.26 285.71V291.98M320.46 284.9V291.47M323.66 284.07V290.98M326.86 283.23V290.5M330.06 282.37V290.04M333.26 281.51V289.58M336.46 280.63V289.14M339.66 279.74V288.7M342.86 278.85V288.27M346.06 277.96V287.84M349.26 277.05V287.42M352.46 276.15V287.01M355.66 275.24V286.6M358.86 274.32V286.19M362.06 273.4V285.79M365.26 272.48V285.39M368.46 271.56V284.99M371.66 270.64V284.59M374.86 269.71V284.19M378.06 268.78V283.8M381.26 267.85V283.41M384.46 266.92V283.02M387.66 265.99V282.63M390.86 265.06V282.24M394.06 264.13V281.85M397.26 263.19V281.46M400.46 262.26V281.07M403.66 261.32V280.69M406.86 260.38V280.3M410.06 259.45V279.92M413.26 258.51V279.54M416.46 257.57V279.15M419.66 256.63V278.77M422.86 255.69V278.39M426.06 254.75V278.01M429.26 253.81V277.62M432.46 252.87V277.24M435.66 251.93V276.86M438.86 250.99V276.48M442.06 250.05V276.1" stroke="#bdbdbd" stroke-width="0.75" fill="none"/>
<line x1="282.06" y1="296.12" x2="443.27" y2="262.83" stroke="#e65858" stroke-width="1.55"/>
<circle cx="304" cy="257.3" r="1.2"/>
<circle cx="312.9" cy="258.5" r="1.2"/>
<circle cx="296.2" cy="268.3" r="1.2"/>
<circle cx="316.4" cy="271" r="1.2"/>
<circle cx="290.6" cy="274.1" r="1.2"/>
<circle cx="291.4" cy="275.2" r="1.2"/>
<circle cx="303.4" cy="274.1" r="1.2"/>
<circle cx="306" cy="274.9" r="1.2"/>
<circle cx="304.7" cy="275.8" r="1.2"/>
<circle cx="285.4" cy="276.7" r="1.2"/>
<circle cx="291" cy="277.8" r="1.2"/>
<circle cx="295.6" cy="278.4" r="1.2"/>
<circle cx="296.9" cy="278.8" r="1.2"/>
<circle cx="306" cy="279.1" r="1.2"/>
<circle cx="314.8" cy="278.8" r="1.2"/>
<circle cx="321.4" cy="277.1" r="1.2"/>
<circle cx="303.4" cy="283" r="1.2"/>
<circle cx="301.2" cy="284.9" r="1.2"/>
<circle cx="316" cy="285.2" r="1.2"/>
<circle cx="324.6" cy="286" r="1.2"/>
<circle cx="313.2" cy="297.7" r="1.2"/>
<circle cx="319.9" cy="296.9" r="1.2"/>
<circle cx="352" cy="269.4" r="1.2"/>
<circle cx="395.4" cy="271.2" r="1.2"/>
<circle cx="416.5" cy="255.4" r="1.2"/>
<circle cx="428.7" cy="247" r="1.2"/>
<circle cx="340.3" cy="306.2" r="1.2"/>
<circle cx="442.7" cy="303.6" r="1.2"/>
<circle cx="303.4" cy="282.8" r="1.2"/>
<circle cx="300.9" cy="285" r="1.2"/>
<circle cx="301.6" cy="289.7" r="1.2"/>
<circle cx="296.6" cy="288.1" r="1.2"/>
<circle cx="295" cy="288.75" r="1.2"/>
<circle cx="291.6" cy="288.75" r="1.2"/>
<circle cx="291.9" cy="290.9" r="1.2"/>
<circle cx="292.5" cy="292.5" r="1.2"/>
<circle cx="296.9" cy="290.9" r="1.2"/>
<circle cx="302.5" cy="293.4" r="1.2"/>
<circle cx="302.8" cy="294.7" r="1.2"/>
<circle cx="283.4" cy="297.8" r="1.2"/>
<circle cx="282.2" cy="300.9" r="1.2"/>
<circle cx="283.1" cy="302.2" r="1.2"/>
<circle cx="285.6" cy="303.75" r="1.2"/>
<circle cx="287.8" cy="305.6" r="1.2"/>
<circle cx="288.1" cy="309.1" r="1.2"/>
<circle cx="286.25" cy="312.8" r="1.2"/>
<circle cx="290.9" cy="307.5" r="1.2"/>
<circle cx="306.6" cy="297.8" r="1.2"/>
<circle cx="307.2" cy="298.75" r="1.2"/>
<circle cx="301.25" cy="305" r="1.2"/>
<circle cx="302.02" cy="302.06" r="1.2"/>
<circle cx="292.84" cy="297.55" r="1.2"/>
<circle cx="293.18" cy="296.11" r="1.2"/>
<circle cx="302.67" cy="299.82" r="1.2"/>
<circle cx="292.72" cy="299.09" r="1.2"/>
<circle cx="295.43" cy="294.14" r="1.2"/>
<circle cx="297.5" cy="297.83" r="1.2"/>
<circle cx="298.66" cy="298.43" r="1.2"/>
<circle cx="296.44" cy="305.53" r="1.2"/>
<circle cx="289.67" cy="294.95" r="1.2"/>
<circle cx="291.87" cy="305.44" r="1.2"/>
<circle cx="293.51" cy="299.61" r="1.2"/>
<circle cx="296.13" cy="304.15" r="1.2"/>
<circle cx="297.36" cy="298.38" r="1.2"/>
<circle cx="296.6" cy="295.46" r="1.2"/>
<circle cx="292.78" cy="297.19" r="1.2"/>
<circle cx="295.74" cy="294.08" r="1.2"/>
<circle cx="296.21" cy="294.62" r="1.2"/>
<circle cx="296.47" cy="298.05" r="1.2"/>
<circle cx="296.57" cy="299.42" r="1.2"/>
<circle cx="290.29" cy="304.2" r="1.2"/>
<circle cx="297.57" cy="299.18" r="1.2"/>
<circle cx="300.56" cy="300.9" r="1.2"/>
<circle cx="294.18" cy="301.63" r="1.2"/>
<circle cx="294.85" cy="297.67" r="1.2"/>
<circle cx="298.28" cy="302.37" r="1.2"/>
<circle cx="297.94" cy="297.2" r="1.2"/>
<circle cx="294.4" cy="298.21" r="1.2"/>
<circle cx="296.83" cy="294.99" r="1.2"/>
<circle cx="292.98" cy="306.07" r="1.2"/>
<circle cx="294.15" cy="305.11" r="1.2"/>
<circle cx="299.22" cy="297.24" r="1.2"/>
<circle cx="293.97" cy="301.05" r="1.2"/>
<circle cx="299.47" cy="297.57" r="1.2"/>
<circle cx="290.25" cy="295.36" r="1.2"/>
<circle cx="290.95" cy="304.08" r="1.2"/>
<circle cx="297.66" cy="297.5" r="1.2"/>
<circle cx="290.81" cy="297.62" r="1.2"/>
<circle cx="299.99" cy="300.3" r="1.2"/>
<circle cx="296.35" cy="305.02" r="1.2"/>
<circle cx="295.05" cy="303.46" r="1.2"/>
<circle cx="291.63" cy="301.72" r="1.2"/>
<circle cx="301.43" cy="301.72" r="1.2"/>
<circle cx="297.71" cy="300.33" r="1.2"/>
<circle cx="300.18" cy="297.95" r="1.2"/>
<circle cx="292.75" cy="300.43" r="1.2"/>
<circle cx="297.01" cy="299.24" r="1.2"/>
<circle cx="291.65" cy="302.4" r="1.2"/>
<circle cx="298.9" cy="298.46" r="1.2"/>
<circle cx="293.31" cy="294.81" r="1.2"/>
<circle cx="290.82" cy="301.6" r="1.2"/>
<circle cx="292.34" cy="302" r="1.2"/>
<circle cx="297.08" cy="304.73" r="1.2"/>
<circle cx="292.69" cy="295.17" r="1.2"/>
<circle cx="295.4" cy="298.62" r="1.2"/>
<path d="M279.2 221.4V340.7M274.6 336.2H451.7M274.6 336.2H279.2M274.6 313.24H279.2M274.6 290.28H279.2M274.6 267.32H279.2M274.6 244.36H279.2M274.6 221.4H279.2M317.4 336.2V340.7M355.6 336.2V340.7M393.8 336.2V340.7M432 336.2V340.7" stroke="#3d3d3d" stroke-width="1.35" fill="none"/>
<text x="273.25" y="339.86" text-anchor="end" font-size="8.35">0</text>
<text x="273.25" y="316.9" text-anchor="end" font-size="8.35">50</text>
<text x="273.25" y="293.94" text-anchor="end" font-size="8.35">100</text>
<text x="273.25" y="270.98" text-anchor="end" font-size="8.35">150</text>
<text x="273.25" y="248.02" text-anchor="end" font-size="8.35">200</text>
<text x="273.25" y="225.06" text-anchor="end" font-size="8.35">250</text>
<text x="279.2" y="351.03" text-anchor="middle" font-size="8.35">0</text>
<text x="317.4" y="351.03" text-anchor="middle" font-size="8.35">2</text>
<text x="355.6" y="351.03" text-anchor="middle" font-size="8.35">4</text>
<text x="393.8" y="351.03" text-anchor="middle" font-size="8.35">6</text>
<text x="432" y="351.03" text-anchor="middle" font-size="8.35">8</text>
<text transform="translate(255.5 279) rotate(-90)" text-anchor="middle" font-size="9.4">LVMI (g/m<tspan font-size="6.4" dy="-4.2">2</tspan><tspan dy="4.2">)</tspan></text>
<text x="365.2" y="365.2" text-anchor="middle" font-size="9.4">CTSB protein level in PBLs</text>
<text x="365.2" y="375.6" text-anchor="middle" font-size="9.4">(fold change)</text>
<text x="289.4" y="228.2" font-size="8.35" letter-spacing="0.12"><tspan font-style="italic">r</tspan> = 0.384</text>
<text x="289.4" y="238.4" font-size="8.35" letter-spacing="0.12"><tspan font-style="italic">p</tspan> < 0.001</text>
<text transform="translate(235.6 203.2) scale(0.86 1)" class="L">E</text></g>
<g><polygon points="510.44,248.13 513.18,248.5 515.93,248.86 518.68,249.21 521.43,249.55 524.17,249.86 526.92,250.15 529.67,250.39 532.42,250.6 535.16,250.77 537.91,250.91 540.66,251.04 543.41,251.16 546.15,251.27 548.9,251.37 551.65,251.48 554.4,251.57 557.14,251.67 559.89,251.77 562.64,251.86 565.39,251.96 568.13,252.05 570.88,252.14 573.63,252.23 576.38,252.33 579.12,252.42 581.87,252.51 584.62,252.6 587.37,252.69 590.11,252.78 592.86,252.87 595.61,252.96 598.36,253.05 601.1,253.14 603.85,253.23 606.6,253.32 609.35,253.41 612.09,253.5 614.84,253.59 617.59,253.67 620.34,253.76 623.08,253.85 625.83,253.94 628.58,254.03 631.33,254.12 634.07,254.21 636.82,254.3 639.57,254.39 642.32,254.48 645.06,254.56 647.81,254.65 650.56,254.74 653.31,254.83 656.05,254.92 658.8,255.01 661.55,255.1 664.3,255.19 667.04,255.27 669.79,255.36 672.54,255.45 675.29,255.54 675.29,271.63 672.54,271.24 669.79,270.85 667.04,270.47 664.3,270.08 661.55,269.69 658.8,269.3 656.05,268.91 653.31,268.52 650.56,268.13 647.81,267.74 645.06,267.36 642.32,266.97 639.57,266.58 636.82,266.19 634.07,265.8 631.33,265.41 628.58,265.02 625.83,264.64 623.08,264.25 620.34,263.86 617.59,263.47 614.84,263.08 612.09,262.7 609.35,262.31 606.6,261.92 603.85,261.53 601.1,261.14 598.36,260.76 595.61,260.37 592.86,259.98 590.11,259.59 587.37,259.21 584.62,258.82 581.87,258.43 579.12,258.05 576.38,257.66 573.63,257.27 570.88,256.89 568.13,256.5 565.39,256.12 562.64,255.74 559.89,255.35 557.14,254.97 554.4,254.59 551.65,254.21 548.9,253.84 546.15,253.47 543.41,253.1 540.66,252.74 537.91,252.39 535.16,252.06 532.42,251.75 529.67,251.48 526.92,251.24 524.17,251.05 521.43,250.89 518.68,250.75 515.93,250.62 513.18,250.51 510.44,250.4" fill="#e6e6e6" stroke="#a8a8a8" stroke-width="0.7"/>
<path d="M510.44 248.13V250.4M513.64 248.56V250.53M516.84 248.97V250.66M520.04 249.38V250.82M523.24 249.76V250.99M526.44 250.1V251.21M529.64 250.39V251.47M532.84 250.62V251.8M536.04 250.81V252.16M539.24 250.97V252.56M542.44 251.12V252.97M545.64 251.25V253.4M548.84 251.37V253.83M552.04 251.49V254.27M555.24 251.6V254.71M558.44 251.72V255.15M561.64 251.83V255.6M564.84 251.94V256.04M568.04 252.05V256.49M571.24 252.15V256.94M574.44 252.26V257.39M577.64 252.37V257.84M580.84 252.47V258.29M584.04 252.58V258.74M587.24 252.68V259.19M590.44 252.79V259.64M593.64 252.89V260.09M596.84 253V260.54M600.04 253.1V260.99M603.24 253.21V261.44M606.44 253.31V261.9M609.64 253.42V262.35M612.84 253.52V262.8M616.04 253.62V263.25M619.24 253.73V263.7M622.44 253.83V264.16M625.64 253.94V264.61M628.84 254.04V265.06M632.04 254.14V265.51M635.24 254.25V265.97M638.44 254.35V266.42M641.64 254.45V266.87M644.84 254.56V267.32M648.04 254.66V267.78M651.24 254.76V268.23M654.44 254.87V268.68M657.64 254.97V269.13M660.84 255.07V269.59M664.04 255.18V270.04M667.24 255.28V270.49M670.44 255.38V270.95M673.64 255.49V271.4" stroke="#bdbdbd" stroke-width="0.75" fill="none"/>
<line x1="510.44" y1="249.26" x2="675.29" y2="263.59" stroke="#e65858" stroke-width="1.55"/>
<circle cx="519.1" cy="271" r="1.2"/>
<circle cx="532.5" cy="273.7" r="1.2"/>
<circle cx="550.7" cy="275.3" r="1.2"/>
<circle cx="525.2" cy="287.1" r="1.2"/>
<circle cx="520.3" cy="265.2" r="1.2"/>
<circle cx="524.5" cy="261" r="1.2"/>
<circle cx="534.6" cy="260.6" r="1.2"/>
<circle cx="553.8" cy="250" r="1.2"/>
<circle cx="541.8" cy="254.9" r="1.2"/>
<circle cx="549.1" cy="254.9" r="1.2"/>
<circle cx="513.7" cy="257.7" r="1.2"/>
<circle cx="570" cy="253.2" r="1.2"/>
<circle cx="581.9" cy="254.7" r="1.2"/>
<circle cx="626.8" cy="269.3" r="1.2"/>
<circle cx="648.5" cy="253.2" r="1.2"/>
<circle cx="660.7" cy="266.4" r="1.2"/>
<circle cx="675.3" cy="254.7" r="1.2"/>
<circle cx="523.8" cy="238.4" r="1.2"/>
<circle cx="518.5" cy="239.8" r="1.2"/>
<circle cx="525.8" cy="241.5" r="1.2"/>
<circle cx="531.65" cy="241.5" r="1.2"/>
<circle cx="510" cy="241.9" r="1.2"/>
<circle cx="511.5" cy="244.8" r="1.2"/>
<circle cx="511.2" cy="246" r="1.2"/>
<circle cx="536" cy="247.1" r="1.2"/>
<circle cx="541.9" cy="249.5" r="1.2"/>
<circle cx="543.6" cy="248.6" r="1.2"/>
<circle cx="545.4" cy="249.8" r="1.2"/>
<circle cx="541.9" cy="254.7" r="1.2"/>
<circle cx="519.1" cy="254.7" r="1.2"/>
<circle cx="521.4" cy="254.7" r="1.2"/>
<circle cx="518.8" cy="256.2" r="1.2"/>
<circle cx="513.5" cy="257.65" r="1.2"/>
<circle cx="525.5" cy="257.65" r="1.2"/>
<circle cx="531.65" cy="257.65" r="1.2"/>
<circle cx="535.2" cy="257.65" r="1.2"/>
<circle cx="524.6" cy="260.9" r="1.2"/>
<circle cx="534.6" cy="260.9" r="1.2"/>
<circle cx="529.6" cy="254.4" r="1.2"/>
<circle cx="521.29" cy="249.33" r="1.2"/>
<circle cx="522.51" cy="249.03" r="1.2"/>
<circle cx="522.35" cy="250.89" r="1.2"/>
<circle cx="519.02" cy="250.69" r="1.2"/>
<circle cx="520.7" cy="246.35" r="1.2"/>
<circle cx="529.73" cy="247.83" r="1.2"/>
<circle cx="530.74" cy="253.51" r="1.2"/>
<circle cx="531.15" cy="250.97" r="1.2"/>
<circle cx="513.9" cy="249.12" r="1.2"/>
<circle cx="527.15" cy="247.71" r="1.2"/>
<circle cx="518.26" cy="247.83" r="1.2"/>
<circle cx="520.99" cy="248.82" r="1.2"/>
<circle cx="519.78" cy="245.49" r="1.2"/>
<circle cx="530.77" cy="249.71" r="1.2"/>
<circle cx="518.49" cy="246.46" r="1.2"/>
<circle cx="520.02" cy="249.16" r="1.2"/>
<circle cx="531.92" cy="249.43" r="1.2"/>
<circle cx="533.6" cy="249.28" r="1.2"/>
<circle cx="530.89" cy="249.1" r="1.2"/>
<circle cx="526.85" cy="249.49" r="1.2"/>
<circle cx="513.8" cy="246.37" r="1.2"/>
<circle cx="518.43" cy="248.67" r="1.2"/>
<circle cx="521.46" cy="249.85" r="1.2"/>
<circle cx="527.87" cy="248.62" r="1.2"/>
<circle cx="520.36" cy="249.6" r="1.2"/>
<circle cx="534.36" cy="251.99" r="1.2"/>
<circle cx="518.33" cy="245.99" r="1.2"/>
<circle cx="515.36" cy="246.17" r="1.2"/>
<circle cx="530.21" cy="246.45" r="1.2"/>
<circle cx="527.41" cy="247.35" r="1.2"/>
<circle cx="515.6" cy="246.4" r="1.2"/>
<circle cx="521.88" cy="245.44" r="1.2"/>
<circle cx="523.56" cy="251.53" r="1.2"/>
<circle cx="513.97" cy="246.84" r="1.2"/>
<circle cx="524.41" cy="246.01" r="1.2"/>
<circle cx="518.07" cy="248.76" r="1.2"/>
<circle cx="515.69" cy="246.12" r="1.2"/>
<circle cx="532.66" cy="248.91" r="1.2"/>
<circle cx="518.27" cy="246.72" r="1.2"/>
<circle cx="532.32" cy="246.94" r="1.2"/>
<circle cx="520.03" cy="247.7" r="1.2"/>
<circle cx="516.04" cy="245.77" r="1.2"/>
<circle cx="524.33" cy="249.8" r="1.2"/>
<circle cx="523.74" cy="250.29" r="1.2"/>
<circle cx="524.4" cy="249.41" r="1.2"/>
<circle cx="528.08" cy="251.47" r="1.2"/>
<circle cx="520.22" cy="249.17" r="1.2"/>
<circle cx="531.12" cy="251.51" r="1.2"/>
<circle cx="514.46" cy="248.05" r="1.2"/>
<circle cx="522.19" cy="248.54" r="1.2"/>
<circle cx="518.23" cy="249.1" r="1.2"/>
<circle cx="529.18" cy="250.65" r="1.2"/>
<circle cx="518.2" cy="248.58" r="1.2"/>
<circle cx="527.07" cy="245.59" r="1.2"/>
<circle cx="527.11" cy="246.4" r="1.2"/>
<circle cx="534.43" cy="251.19" r="1.2"/>
<circle cx="518.22" cy="249.53" r="1.2"/>
<circle cx="531.98" cy="252.62" r="1.2"/>
<circle cx="527.95" cy="250.72" r="1.2"/>
<circle cx="529.71" cy="253.16" r="1.2"/>
<circle cx="524.65" cy="250.51" r="1.2"/>
<circle cx="530.94" cy="249.59" r="1.2"/>
<circle cx="518.13" cy="250.21" r="1.2"/>
<circle cx="521.02" cy="251.38" r="1.2"/>
<circle cx="529.83" cy="253.08" r="1.2"/>
<circle cx="533.88" cy="251.53" r="1.2"/>
<path d="M507.1 220.6V343.2M502.5 338.7H690M502.5 338.7H507.1M502.5 309.18H507.1M502.5 279.65H507.1M502.5 250.12H507.1M502.5 220.6H507.1M546.35 338.7V343.2M585.6 338.7V343.2M624.85 338.7V343.2M664.1 338.7V343.2" stroke="#3d3d3d" stroke-width="1.35" fill="none"/>
<text x="500.98" y="342.46" text-anchor="end" font-size="8.58">0</text>
<text x="500.98" y="312.93" text-anchor="end" font-size="8.58">20</text>
<text x="500.98" y="283.41" text-anchor="end" font-size="8.58">40</text>
<text x="500.98" y="253.88" text-anchor="end" font-size="8.58">60</text>
<text x="500.98" y="224.36" text-anchor="end" font-size="8.58">80</text>
<text x="507.1" y="353.94" text-anchor="middle" font-size="8.58">0</text>
<text x="546.35" y="353.94" text-anchor="middle" font-size="8.58">2</text>
<text x="585.6" y="353.94" text-anchor="middle" font-size="8.58">4</text>
<text x="624.85" y="353.94" text-anchor="middle" font-size="8.58">6</text>
<text x="664.1" y="353.94" text-anchor="middle" font-size="8.58">8</text>
<text transform="translate(486.5 279.6) rotate(-90)" text-anchor="middle" font-size="9.66">LVEF (%)</text>
<text x="595.5" y="368" text-anchor="middle" font-size="9.66">CTSB protein level in PBLs</text>
<text x="595.5" y="378.6" text-anchor="middle" font-size="9.66">(fold change)</text>
<text x="518.2" y="222.2" font-size="8.58" letter-spacing="0.12"><tspan font-style="italic">r</tspan> = 0.442</text>
<text x="518.2" y="231.8" font-size="8.58" letter-spacing="0.12"><tspan font-style="italic">p</tspan> < 0.001</text>
<text transform="translate(464.2 202.9) scale(0.86 1)" class="L">F</text></g>
<g><polygon points="47.42,510.15 50.01,509.99 52.6,509.8 55.19,509.59 57.78,509.36 60.37,509.09 62.95,508.79 65.54,508.45 68.13,508.07 70.72,507.66 73.31,507.21 75.9,506.71 78.49,506.18 81.08,505.61 83.67,505.01 86.26,504.37 88.85,503.71 91.43,503.01 94.02,502.29 96.61,501.54 99.2,500.77 101.79,499.98 104.38,499.18 106.97,498.36 109.56,497.52 112.15,496.68 114.74,495.82 117.33,494.95 119.92,494.08 122.5,493.19 125.09,492.3 127.68,491.41 130.27,490.5 132.86,489.59 135.45,488.68 138.04,487.76 140.63,486.84 143.22,485.92 145.81,484.99 148.4,484.06 150.98,483.12 153.57,482.19 156.16,481.25 158.75,480.31 161.34,479.36 163.93,478.42 166.52,477.47 169.11,476.52 171.7,475.57 174.29,474.62 176.88,473.67 179.46,472.71 182.05,471.76 184.64,470.8 187.23,469.84 189.82,468.89 192.41,467.93 195,466.97 197.59,466.01 200.18,465.05 202.77,464.08 202.77,519.1 200.18,519.04 197.59,518.99 195,518.93 192.41,518.88 189.82,518.83 187.23,518.78 184.64,518.73 182.05,518.68 179.46,518.63 176.88,518.58 174.29,518.54 171.7,518.49 169.11,518.45 166.52,518.41 163.93,518.37 161.34,518.33 158.75,518.29 156.16,518.26 153.57,518.22 150.98,518.19 148.4,518.17 145.81,518.14 143.22,518.12 140.63,518.1 138.04,518.09 135.45,518.08 132.86,518.07 130.27,518.07 127.68,518.07 125.09,518.08 122.5,518.1 119.92,518.12 117.33,518.15 114.74,518.19 112.15,518.24 109.56,518.3 106.97,518.37 104.38,518.46 101.79,518.56 99.2,518.68 96.61,518.82 94.02,518.98 91.43,519.16 88.85,519.37 86.26,519.61 83.67,519.88 81.08,520.19 78.49,520.52 75.9,520.9 73.31,521.31 70.72,521.77 68.13,522.26 65.54,522.79 62.95,523.36 60.37,523.97 57.78,524.6 55.19,525.27 52.6,525.97 50.01,526.69 47.42,527.44" fill="#e6e6e6" stroke="#a8a8a8" stroke-width="0.7"/>
<path d="M47.42 510.15V527.44M50.62 509.95V526.52M53.82 509.71V525.64M57.02 509.43V524.8M60.22 509.1V524M63.42 508.73V523.26M66.62 508.3V522.57M69.82 507.81V521.94M73.02 507.26V521.36M76.22 506.65V520.85M79.42 505.98V520.4M82.62 505.26V520M85.82 504.48V519.66M89.02 503.66V519.36M92.22 502.79V519.11M95.42 501.89V518.89M98.62 500.94V518.71M101.82 499.97V518.56M105.02 498.98V518.44M108.22 497.96V518.34M111.42 496.92V518.26M114.62 495.86V518.19M117.82 494.79V518.14M121.02 493.7V518.11M124.22 492.6V518.09M127.42 491.5V518.07M130.62 490.38V518.07M133.82 489.26V518.07M137.02 488.13V518.08M140.22 486.99V518.1M143.42 485.84V518.12M146.62 484.7V518.15M149.82 483.54V518.18M153.02 482.39V518.22M156.22 481.23V518.26M159.42 480.06V518.3M162.62 478.9V518.35M165.82 477.73V518.4M169.02 476.55V518.45M172.22 475.38V518.5M175.42 474.2V518.56M178.62 473.02V518.61M181.82 471.84V518.67M185.02 470.66V518.73M188.22 469.48V518.8M191.42 468.29V518.86M194.62 467.11V518.93M197.82 465.92V518.99M201.02 464.73V519.06" stroke="#bdbdbd" stroke-width="0.75" fill="none"/>
<line x1="47.42" y1="518.79" x2="202.77" y2="491.59" stroke="#e65858" stroke-width="1.55"/>
<circle cx="71.3" cy="433" r="1.2"/>
<circle cx="70" cy="448.1" r="1.2"/>
<circle cx="61.2" cy="465.3" r="1.2"/>
<circle cx="53.6" cy="472.3" r="1.2"/>
<circle cx="58.9" cy="472.3" r="1.2"/>
<circle cx="71.9" cy="470" r="1.2"/>
<circle cx="89" cy="470" r="1.2"/>
<circle cx="62.1" cy="482.1" r="1.2"/>
<circle cx="68.6" cy="484.9" r="1.2"/>
<circle cx="65.2" cy="493.3" r="1.2"/>
<circle cx="56.2" cy="508.6" r="1.2"/>
<circle cx="84.6" cy="507.7" r="1.2"/>
<circle cx="81" cy="514.7" r="1.2"/>
<circle cx="86" cy="521.5" r="1.2"/>
<circle cx="56.6" cy="519.8" r="1.2"/>
<circle cx="62.6" cy="521" r="1.2"/>
<circle cx="62.1" cy="521.8" r="1.2"/>
<circle cx="60.4" cy="524.1" r="1.2"/>
<circle cx="60.9" cy="525.2" r="1.2"/>
<circle cx="68.3" cy="517.7" r="1.2"/>
<circle cx="68.8" cy="520.1" r="1.2"/>
<circle cx="77.9" cy="523.5" r="1.2"/>
<circle cx="77.9" cy="527.8" r="1.2"/>
<circle cx="56.4" cy="525.2" r="1.2"/>
<circle cx="67.1" cy="524.7" r="1.2"/>
<circle cx="67.7" cy="526.9" r="1.2"/>
<circle cx="66.6" cy="528.6" r="1.2"/>
<circle cx="68.8" cy="529.2" r="1.2"/>
<circle cx="57.5" cy="529" r="1.2"/>
<circle cx="56.4" cy="530.9" r="1.2"/>
<circle cx="48" cy="533.7" r="1.2"/>
<circle cx="49.6" cy="533.7" r="1.2"/>
<circle cx="57.5" cy="533.7" r="1.2"/>
<circle cx="59.2" cy="533.1" r="1.2"/>
<circle cx="62.6" cy="533.5" r="1.2"/>
<circle cx="64.3" cy="532.6" r="1.2"/>
<circle cx="65.4" cy="533.7" r="1.2"/>
<circle cx="71.1" cy="534.3" r="1.2"/>
<circle cx="80.1" cy="533.7" r="1.2"/>
<circle cx="81" cy="532.8" r="1.2"/>
<circle cx="54.7" cy="533.7" r="1.2"/>
<circle cx="115.4" cy="515.4" r="1.2"/>
<circle cx="157.4" cy="529.2" r="1.2"/>
<circle cx="177.6" cy="511.7" r="1.2"/>
<circle cx="189.3" cy="499.8" r="1.2"/>
<circle cx="202.4" cy="465.9" r="1.2"/>
<path d="M45.4 424V539M40.8 534.5H210.9M40.8 534.5H45.4M40.8 497.67H45.4M40.8 460.83H45.4M40.8 424H45.4M82.12 534.5V539M118.85 534.5V539M155.58 534.5V539M192.3 534.5V539" stroke="#3d3d3d" stroke-width="1.35" fill="none"/>
<text x="39.68" y="538.01" text-anchor="end" font-size="8.03">0</text>
<text x="39.68" y="501.18" text-anchor="end" font-size="8.03">1000</text>
<text x="39.68" y="464.35" text-anchor="end" font-size="8.03">2000</text>
<text x="39.68" y="427.51" text-anchor="end" font-size="8.03">3000</text>
<text x="45.4" y="548.76" text-anchor="middle" font-size="8.03">0</text>
<text x="82.12" y="548.76" text-anchor="middle" font-size="8.03">2</text>
<text x="118.85" y="548.76" text-anchor="middle" font-size="8.03">4</text>
<text x="155.58" y="548.76" text-anchor="middle" font-size="8.03">6</text>
<text x="192.3" y="548.76" text-anchor="middle" font-size="8.03">8</text>
<text transform="translate(16.4 479.6) rotate(-90)" text-anchor="middle" font-size="9.04">NT-proBNP (pg/L)</text>
<text x="128" y="562.7" text-anchor="middle" font-size="9.04">CTSB protein level in PBLs</text>
<text x="128" y="572.8" text-anchor="middle" font-size="9.04">(fold change)</text>
<text x="56.4" y="419.2" font-size="8.03" letter-spacing="0.12"><tspan font-style="italic">r</tspan> = 0.403</text>
<text x="56.4" y="428.7" font-size="8.03" letter-spacing="0.12"><tspan font-style="italic">p</tspan> = 0.002</text>
<text transform="translate(0.6 408.5) scale(0.86 1)" class="L">G</text></g>
<g><polygon points="280.63,492.57 283.28,492.56 285.93,492.54 288.58,492.49 291.23,492.41 293.88,492.31 296.53,492.18 299.18,492.02 301.83,491.84 304.48,491.63 307.13,491.4 309.78,491.15 312.43,490.88 315.08,490.6 317.73,490.3 320.38,490 323.02,489.68 325.67,489.35 328.32,489.02 330.97,488.67 333.62,488.33 336.27,487.97 338.92,487.62 341.57,487.26 344.22,486.89 346.87,486.52 349.52,486.15 352.17,485.78 354.82,485.41 357.47,485.03 360.12,484.65 362.77,484.27 365.42,483.89 368.06,483.51 370.71,483.13 373.36,482.74 376.01,482.36 378.66,481.97 381.31,481.58 383.96,481.2 386.61,480.81 389.26,480.42 391.91,480.03 394.56,479.64 397.21,479.25 399.86,478.86 402.51,478.47 405.16,478.07 407.81,477.68 410.46,477.29 413.11,476.9 415.75,476.5 418.4,476.11 421.05,475.72 423.7,475.32 426.35,474.93 429,474.53 431.65,474.14 434.3,473.74 436.95,473.35 439.6,472.95 439.6,504.45 436.95,504.29 434.3,504.13 431.65,503.98 429,503.82 426.35,503.66 423.7,503.5 421.05,503.35 418.4,503.19 415.75,503.03 413.11,502.88 410.46,502.72 407.81,502.57 405.16,502.41 402.51,502.26 399.86,502.1 397.21,501.95 394.56,501.8 391.91,501.64 389.26,501.49 386.61,501.34 383.96,501.19 381.31,501.04 378.66,500.89 376.01,500.74 373.36,500.59 370.71,500.45 368.06,500.3 365.42,500.15 362.77,500.01 360.12,499.87 357.47,499.73 354.82,499.59 352.17,499.45 349.52,499.32 346.87,499.18 344.22,499.05 341.57,498.93 338.92,498.8 336.27,498.69 333.62,498.57 330.97,498.46 328.32,498.36 325.67,498.26 323.02,498.17 320.38,498.09 317.73,498.02 315.08,497.96 312.43,497.91 309.78,497.88 307.13,497.87 304.48,497.88 301.83,497.91 299.18,497.96 296.53,498.04 293.88,498.15 291.23,498.29 288.58,498.45 285.93,498.63 283.28,498.84 280.63,499.07" fill="#e6e6e6" stroke="#a8a8a8" stroke-width="0.7"/>
<path d="M280.63 492.57V499.07M283.83 492.56V498.8M287.03 492.52V498.55M290.23 492.44V498.34M293.43 492.32V498.17M296.63 492.17V498.04M299.83 491.98V497.95M303.03 491.74V497.89M306.23 491.48V497.87M309.43 491.18V497.88M312.63 490.86V497.92M315.83 490.52V497.97M319.03 490.15V498.05M322.23 489.77V498.14M325.43 489.38V498.25M328.63 488.98V498.37M331.83 488.56V498.5M335.03 488.14V498.63M338.23 487.71V498.77M341.43 487.27V498.92M344.63 486.83V499.07M347.83 486.39V499.23M351.03 485.94V499.39M354.23 485.49V499.56M357.43 485.04V499.73M360.63 484.58V499.9M363.83 484.12V500.07M367.03 483.66V500.24M370.23 483.2V500.42M373.43 482.73V500.6M376.63 482.27V500.77M379.83 481.8V500.95M383.03 481.33V501.14M386.23 480.86V501.32M389.43 480.39V501.5M392.63 479.92V501.69M395.83 479.45V501.87M399.03 478.98V502.06M402.23 478.51V502.24M405.43 478.03V502.43M408.63 477.56V502.62M411.83 477.09V502.8M415.03 476.61V502.99M418.23 476.13V503.18M421.43 475.66V503.37M424.63 475.18V503.56M427.83 474.71V503.75M431.03 474.23V503.94M434.23 473.75V504.13M437.43 473.27V504.32" stroke="#bdbdbd" stroke-width="0.75" fill="none"/>
<line x1="280.63" y1="495.82" x2="439.6" y2="488.7" stroke="#e65858" stroke-width="1.55"/>
<circle cx="314.8" cy="432.8" r="1.2"/>
<circle cx="301.7" cy="451.4" r="1.2"/>
<circle cx="291.6" cy="462.5" r="1.2"/>
<circle cx="293.5" cy="462.7" r="1.2"/>
<circle cx="291.9" cy="470.8" r="1.2"/>
<circle cx="289.3" cy="472.9" r="1.2"/>
<circle cx="294.2" cy="474.2" r="1.2"/>
<circle cx="293.9" cy="477.9" r="1.2"/>
<circle cx="303.6" cy="479.2" r="1.2"/>
<circle cx="298.7" cy="481.3" r="1.2"/>
<circle cx="289.3" cy="482.1" r="1.2"/>
<circle cx="311.7" cy="482.6" r="1.2"/>
<circle cx="319.7" cy="482.8" r="1.2"/>
<circle cx="295.2" cy="484.4" r="1.2"/>
<circle cx="305.1" cy="484.4" r="1.2"/>
<circle cx="288.3" cy="484.4" r="1.2"/>
<circle cx="288.7" cy="485" r="1.2"/>
<circle cx="304.3" cy="486.8" r="1.2"/>
<circle cx="293.5" cy="487.8" r="1.2"/>
<circle cx="296.3" cy="488.9" r="1.2"/>
<circle cx="302" cy="488.5" r="1.2"/>
<circle cx="290.5" cy="489.4" r="1.2"/>
<circle cx="290" cy="490.9" r="1.2"/>
<circle cx="304.6" cy="490.2" r="1.2"/>
<circle cx="298.9" cy="490.9" r="1.2"/>
<circle cx="301" cy="492" r="1.2"/>
<circle cx="301.5" cy="493" r="1.2"/>
<circle cx="290" cy="493.5" r="1.2"/>
<circle cx="290.5" cy="495.6" r="1.2"/>
<circle cx="318.1" cy="494.6" r="1.2"/>
<circle cx="322.8" cy="496.7" r="1.2"/>
<circle cx="293.7" cy="496.1" r="1.2"/>
<circle cx="295.2" cy="497.2" r="1.2"/>
<circle cx="298.9" cy="496.7" r="1.2"/>
<circle cx="302" cy="497.2" r="1.2"/>
<circle cx="311.4" cy="497.7" r="1.2"/>
<circle cx="313.5" cy="498.2" r="1.2"/>
<circle cx="289.5" cy="498.8" r="1.2"/>
<circle cx="292.6" cy="499.8" r="1.2"/>
<circle cx="282.7" cy="500.3" r="1.2"/>
<circle cx="281.7" cy="501.4" r="1.2"/>
<circle cx="286.4" cy="501.4" r="1.2"/>
<circle cx="298.9" cy="500.3" r="1.2"/>
<circle cx="298.9" cy="501.4" r="1.2"/>
<circle cx="304.6" cy="500.3" r="1.2"/>
<circle cx="306" cy="502.9" r="1.2"/>
<circle cx="281.7" cy="504" r="1.2"/>
<circle cx="291.6" cy="503.4" r="1.2"/>
<circle cx="293.7" cy="503.4" r="1.2"/>
<circle cx="295.8" cy="502.4" r="1.2"/>
<circle cx="284.3" cy="505.5" r="1.2"/>
<circle cx="288.5" cy="505" r="1.2"/>
<circle cx="289.5" cy="506.6" r="1.2"/>
<circle cx="286.9" cy="507.6" r="1.2"/>
<circle cx="290.5" cy="507.6" r="1.2"/>
<circle cx="296.3" cy="506.6" r="1.2"/>
<circle cx="299.4" cy="506" r="1.2"/>
<circle cx="284.8" cy="509.7" r="1.2"/>
<circle cx="291.1" cy="509.7" r="1.2"/>
<circle cx="293.7" cy="509.7" r="1.2"/>
<circle cx="299.9" cy="508.6" r="1.2"/>
<circle cx="291.6" cy="512.8" r="1.2"/>
<circle cx="302" cy="513.1" r="1.2"/>
<circle cx="314.5" cy="513.5" r="1.2"/>
<circle cx="281" cy="529.7" r="1.2"/>
<circle cx="295.2" cy="531.8" r="1.2"/>
<circle cx="338.4" cy="496.9" r="1.2"/>
<circle cx="349.8" cy="506.5" r="1.2"/>
<circle cx="392.7" cy="487.8" r="1.2"/>
<circle cx="413.6" cy="489.5" r="1.2"/>
<circle cx="425.5" cy="496" r="1.2"/>
<circle cx="439.1" cy="496" r="1.2"/>
<circle cx="286.79" cy="503.49" r="1.2"/>
<circle cx="297.6" cy="499.06" r="1.2"/>
<circle cx="287.97" cy="505.65" r="1.2"/>
<circle cx="301.58" cy="499.76" r="1.2"/>
<circle cx="294.62" cy="493.96" r="1.2"/>
<circle cx="296.46" cy="490.45" r="1.2"/>
<circle cx="301.26" cy="493.88" r="1.2"/>
<circle cx="288.35" cy="489.89" r="1.2"/>
<circle cx="303.13" cy="501.93" r="1.2"/>
<circle cx="294.44" cy="491.43" r="1.2"/>
<circle cx="304.9" cy="496.74" r="1.2"/>
<circle cx="286.56" cy="506.17" r="1.2"/>
<circle cx="293.42" cy="500.59" r="1.2"/>
<circle cx="290.89" cy="499.18" r="1.2"/>
<circle cx="302.92" cy="493.93" r="1.2"/>
<circle cx="300.95" cy="493.38" r="1.2"/>
<circle cx="300.36" cy="505.02" r="1.2"/>
<circle cx="296.36" cy="504.32" r="1.2"/>
<circle cx="285.82" cy="499" r="1.2"/>
<circle cx="302.02" cy="493.22" r="1.2"/>
<circle cx="292.42" cy="496.67" r="1.2"/>
<circle cx="293.38" cy="497.1" r="1.2"/>
<path d="M278 421.2V539.2M273.4 534.7H448M273.4 534.7H278M273.4 506.33H278M273.4 477.95H278M273.4 449.57H278M273.4 421.2H278M315.62 534.7V539.2M353.25 534.7V539.2M390.88 534.7V539.2M428.5 534.7V539.2" stroke="#3d3d3d" stroke-width="1.35" fill="none"/>
<text x="272.14" y="538.3" text-anchor="end" font-size="8.23">0</text>
<text x="272.14" y="509.92" text-anchor="end" font-size="8.23">50</text>
<text x="272.14" y="481.55" text-anchor="end" font-size="8.23">100</text>
<text x="272.14" y="453.17" text-anchor="end" font-size="8.23">150</text>
<text x="272.14" y="424.8" text-anchor="end" font-size="8.23">200</text>
<text x="278" y="549.31" text-anchor="middle" font-size="8.23">0</text>
<text x="315.62" y="549.31" text-anchor="middle" font-size="8.23">2</text>
<text x="353.25" y="549.31" text-anchor="middle" font-size="8.23">4</text>
<text x="390.88" y="549.31" text-anchor="middle" font-size="8.23">6</text>
<text x="428.5" y="549.31" text-anchor="middle" font-size="8.23">8</text>
<text transform="translate(253 477.5) rotate(-90)" text-anchor="middle" font-size="9.26">Serum creatinine (µmol/L)</text>
<text x="362.8" y="562.6" text-anchor="middle" font-size="9.26">CTSB protein level in PBLs</text>
<text x="362.8" y="572.8" text-anchor="middle" font-size="9.26">(fold change)</text>
<text x="290.2" y="418.9" font-size="8.23" letter-spacing="0.12"><tspan font-style="italic">r</tspan> = 0.241</text>
<text x="290.2" y="429" font-size="8.23" letter-spacing="0.12"><tspan font-style="italic">p</tspan> = 0.024</text>
<text transform="translate(233.5 409) scale(0.86 1)" class="L">H</text></g>
</svg></body></html>
